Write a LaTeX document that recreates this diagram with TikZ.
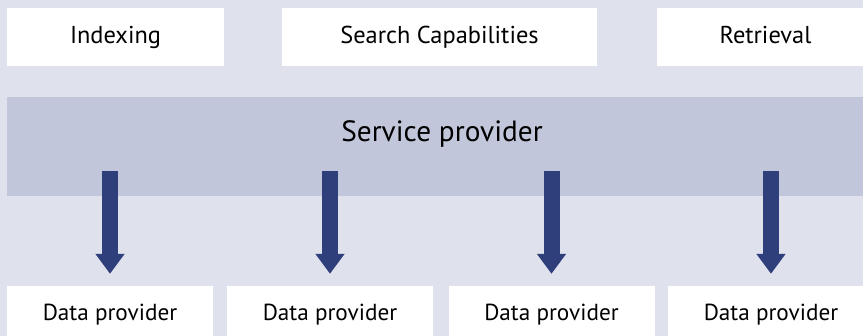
\documentclass[tikz,border=0pt]{standalone}
\usepackage{fontspec}
\setmainfont{PT Sans}
\usetikzlibrary{arrows.meta}
\definecolor{bgcol}{RGB}{223,225,236}
\definecolor{bandcol}{RGB}{193,198,218}
\definecolor{arrowcol}{RGB}{46,63,123}
\begin{document}
\begin{tikzpicture}[x=1pt,y=-1pt]
	\tikzstyle{topbox}=[shape=rectangle,fill=white,minimum width=217pt,minimum height=58pt,inner sep=0pt,font=\fontsize{24.4}{29}\selectfont,text height=18pt,text depth=5.4pt]
	\tikzstyle{dpbox}=[shape=rectangle,fill=white,minimum width=206pt,minimum height=60pt,inner sep=0pt,font=\fontsize{23.2}{28}\selectfont,text height=16pt,text depth=6pt]
	\tikzstyle{band}=[shape=rectangle,fill=bandcol,minimum width=870pt,minimum height=99pt,inner sep=0pt]
	\tikzstyle{flow}=[draw=arrowcol,line width=16pt,shorten >=12pt,-{Triangle[width=28pt,length=20pt]}]

	\useasboundingbox[fill=bgcol] (0,0) rectangle (863,336);

	%%%
	\node at (115.5, 37) [topbox] (idx) {Indexing};
	\node at (439.5, 37) [topbox, minimum width=315pt] (srch) {Search Capabilities};
	\node at (765.5, 37) [topbox] (retr) {Retrieval};

	%%%
	\node at (442, 146.5) [band] (sp) {};
	\node at ([yshift=-44.7pt]sp.north) [anchor=base,font=\fontsize{29.3}{34}\selectfont] (sptext) {Service provider};

	%%%
	\node at (110, 316) [dpbox] (dp1) {Data provider};
	\node at (330, 316) [dpbox] (dp2) {Data provider};
	\node at (551.5, 316) [dpbox] (dp3) {Data provider};
	\node at (771, 316) [dpbox] (dp4) {Data provider};

	%%%
	\draw[flow] (sp.south -| dp1.north) ++(0,-25) -- (dp1.north);
	\draw[flow] (sp.south -| dp2.north) ++(0,-25) -- (dp2.north);
	\draw[flow] (sp.south -| dp3.north) ++(0,-25) -- (dp3.north);
	\draw[flow] (sp.south -| dp4.north) ++(0,-25) -- (dp4.north);
\end{tikzpicture}
\end{document}
